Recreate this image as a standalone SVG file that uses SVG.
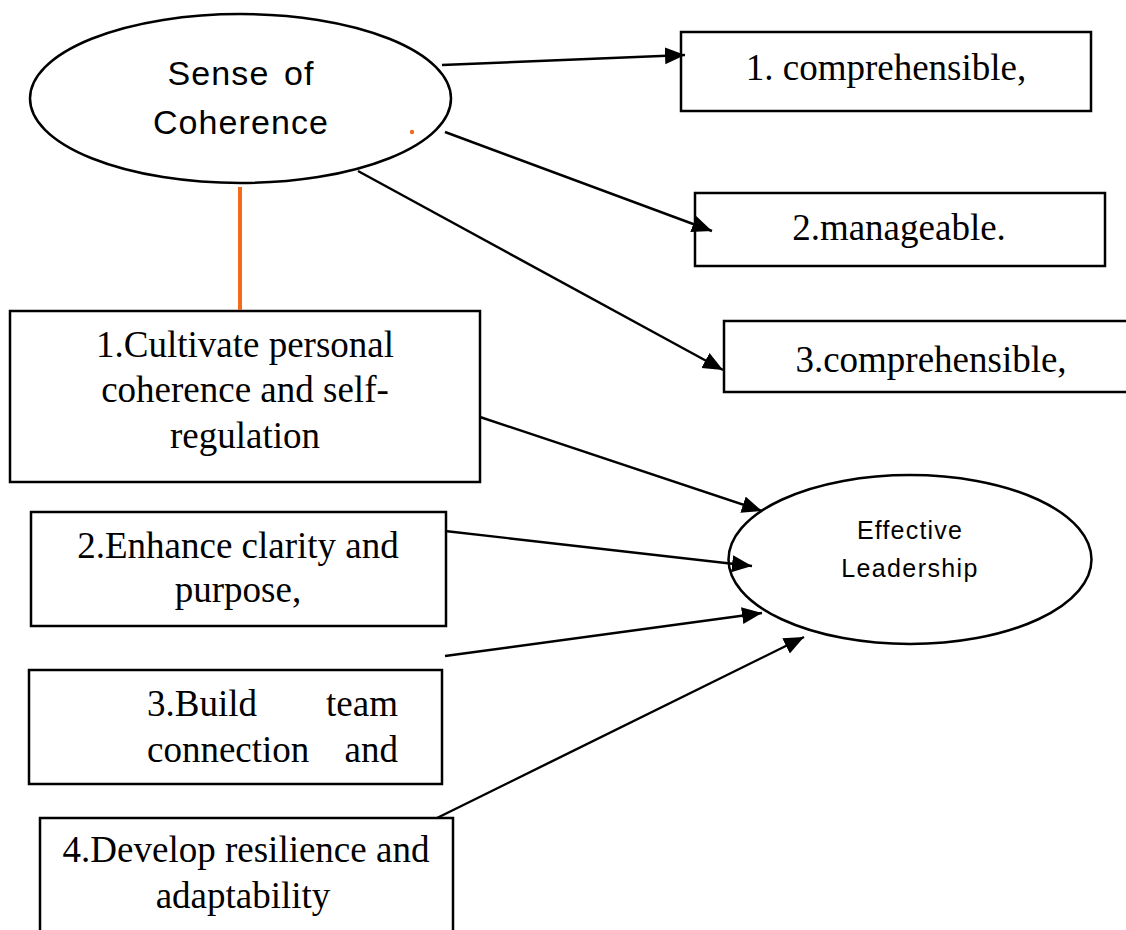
<svg xmlns="http://www.w3.org/2000/svg" width="1126" height="930" viewBox="0 0 1126 930">
<style>
.box{fill:#fff;stroke:#000;stroke-width:2.5}
.ell{fill:#fff;stroke:#000;stroke-width:2.5}
.serif{font-family:"Liberation Serif","Times New Roman",serif;font-size:37px;fill:#000}
.sans{font-family:"Liberation Sans",Arial,sans-serif;fill:#000}
.conn{stroke:#000;stroke-width:2.4;fill:none;marker-end:url(#arr)}
</style>
<defs>
<marker id="arr" markerUnits="userSpaceOnUse" markerWidth="22" markerHeight="18" refX="20" refY="8.5" orient="auto">
<path d="M0,0 L20,8.5 L0,17 z" fill="#000"/>
</marker>
</defs>
<rect width="1126" height="930" fill="#fff"/>
<g id="sense-of-coherence">
<ellipse class="ell" cx="240.5" cy="98.5" rx="210.5" ry="84.5"/>
<text class="sans" font-size="34" letter-spacing="1.1" word-spacing="4" text-anchor="middle" x="241" y="85">Sense of</text>
<text class="sans" font-size="34" letter-spacing="1.1" text-anchor="middle" x="241" y="134">Coherence</text>
<circle cx="412" cy="132" r="2.2" fill="#f26a1b"/>
</g>
<g id="comprehensible-1">
<rect class="box" x="681" y="32" width="410" height="79"/>
<text class="serif" font-size="36.5" text-anchor="middle" x="886" y="80">1. comprehensible,</text>
</g>
<g id="manageable-2">
<rect class="box" x="695" y="193" width="410" height="73"/>
<text class="serif" text-anchor="middle" x="899" y="240">2.manageable.</text>
</g>
<g id="comprehensible-3">
<rect class="box" x="724" y="321" width="430" height="71"/>
<text class="serif" text-anchor="middle" x="931" y="372">3.comprehensible,</text>
</g>
<g id="cultivate-1">
<rect class="box" x="10" y="311" width="470" height="171"/>
<text class="serif" text-anchor="middle" x="245" y="357">1.Cultivate personal</text>
<text class="serif" text-anchor="middle" x="245" y="402">coherence and self-</text>
<text class="serif" text-anchor="middle" x="245" y="448">regulation</text>
</g>
<g id="enhance-2">
<rect class="box" x="31" y="512" width="415" height="114"/>
<text class="serif" text-anchor="middle" x="238" y="558">2.Enhance clarity and</text>
<text class="serif" text-anchor="middle" x="238" y="602">purpose,</text>
</g>
<g id="build-3">
<rect class="box" x="29" y="670" width="413" height="114"/>
<text class="serif"><tspan x="147" y="716">3.Build</tspan><tspan x="398" y="716" text-anchor="end">team</tspan></text>
<text class="serif"><tspan x="147" y="762">connection</tspan><tspan x="398" y="762" text-anchor="end">and</tspan></text>
</g>
<g id="develop-4">
<rect class="box" x="40" y="818" width="413" height="130"/>
<text class="serif" text-anchor="middle" x="246" y="862">4.Develop resilience and</text>
<text class="serif" text-anchor="middle" x="243" y="908">adaptability</text>
</g>
<g id="effective-leadership">
<ellipse class="ell" cx="910" cy="559.5" rx="181.5" ry="84.5"/>
<text class="sans" font-size="25" letter-spacing="1.2" text-anchor="middle" x="910" y="539">Effective</text>
<text class="sans" font-size="25" letter-spacing="1.4" text-anchor="middle" x="910" y="577">Leadership</text>
</g>
<g id="connectors">
<line class="conn" x1="442" y1="65" x2="685" y2="55"/>
<line class="conn" x1="445" y1="132" x2="712" y2="231"/>
<line class="conn" x1="358" y1="171" x2="723" y2="370"/>
<line class="conn" x1="480" y1="417" x2="762" y2="511"/>
<line class="conn" x1="445" y1="531" x2="752" y2="566"/>
<line class="conn" x1="445" y1="656" x2="762" y2="613"/>
<line class="conn" x1="437" y1="818" x2="804" y2="637"/>
<line x1="240" y1="187" x2="240" y2="310" stroke="#f26a1b" stroke-width="4"/>
</g>
</svg>
